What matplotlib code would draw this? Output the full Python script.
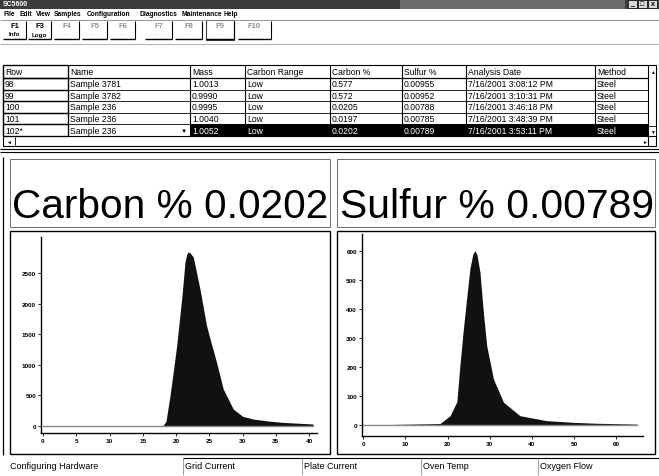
import matplotlib
matplotlib.use("Agg")
import matplotlib.pyplot as plt
from matplotlib.patches import Rectangle

W, H = 659, 477

# table contents
columns = ["Row", "Name", "Mass", "Carbon Range", "Carbon %", "Sulfur %", "Analysis Date", "Method"]
rowIds = ["98", "99", "100", "101", "102*"]
names = ["Sample 3781", "Sample 3782", "Sample 236", "Sample 236", "Sample 236"]
masses = ["1.0013", "0.9990", "0.9995", "1.0040", "1.0052"]
ranges = ["Low", "Low", "Low", "Low", "Low"]
carbonPct = ["0.577", "0.572", "0.0205", "0.0197", "0.0202"]
sulfurPct = ["0.00955", "0.00952", "0.00788", "0.00785", "0.00789"]
dates = ["7/16/2001 3:08:12 PM", "7/16/2001 3:10:31 PM", "7/16/2001 3:46:18 PM",
         "7/16/2001 3:48:39 PM", "7/16/2001 3:53:11 PM"]
methods = ["Steel", "Steel", "Steel", "Steel", "Steel"]

menuItems = ["File", "Edit", "View", "Samples", "Configuration", "Diagnostics", "Maintenance", "Help"]
fKeys = ["F1", "F3", "F4", "F5", "F6", "F7", "F8", "F9", "F10"]
fLabels = ["Info", "Logo", "", "", "", "", "", "", ""]
statusItems = ["Configuring Hardware", "Grid Current", "Plate Current", "Oven Temp", "Oxygen Flow"]

carbonResult = "Carbon % 0.0202"
sulfurResult = "Sulfur % 0.00789"

# carbon peak (seconds vs counts)
carbonT = [0, 18.0, 18.5, 19.1, 19.6, 20.1, 20.9, 21.35, 21.6, 21.8, 22.1, 22.6, 23.6, 24.6, 25.3,
           26.1, 27.1, 28.6, 30.0, 31.6, 34.0, 36.0, 38.5, 40.6]
carbonV = [0, 0, 80, 497, 900, 1312, 2130, 2675, 2800, 2843, 2830, 2760, 2240, 1635, 1350,
           1040, 605, 278, 160, 114, 80, 60, 45, 33]
carbonXTicks = [0, 5, 10, 15, 20, 25, 30, 35, 40]
carbonYTicks = [0, 500, 1000, 1500, 2000, 2500]

# sulfur peak
sulfurT = [0, 18.2, 20.6, 22.2, 23.0, 23.75, 24.6, 25.3, 26.0, 26.5, 27.0, 27.7, 28.5, 29.3, 30.9,
           33.3, 37.2, 43.5, 50.0, 55.4, 65.0]
sulfurV = [0, 5, 32, 80, 216, 330, 445, 537, 588, 600, 585, 525, 388, 273, 158,
           78, 32, 15, 9, 6, 3]
sulfurXTicks = [0, 10, 20, 30, 40, 50, 60]
sulfurYTicks = [0, 100, 200, 300, 400, 500, 600]

UIFONT = "Liberation Sans"

fig = plt.figure(figsize=(W / 100, H / 100), dpi=100)
fig.patch.set_facecolor("white")
ui = fig.add_axes([0, 0, 1, 1])
ui.set_xlim(0, W)
ui.set_ylim(H, 0)
ui.axis("off")


def box(x0, y0, x1, y1, fc="none", ec="black", lw=0.8, z=1):
    ui.add_patch(Rectangle((x0, y0), x1 - x0, y1 - y0, facecolor=fc, edgecolor=ec, linewidth=lw, zorder=z))


def hline(y, x0, x1, c="black", lw=0.8):
    ui.plot([x0, x1], [y, y], color=c, lw=lw, solid_capstyle="butt")


def vline(x, y0, y1, c="black", lw=0.8):
    ui.plot([x, x], [y0, y1], color=c, lw=lw, solid_capstyle="butt")


def txt(x, y, s, size=6, color="black", weight="normal", ha="left", family=UIFONT):
    return ui.text(x, y, s, fontsize=size, color=color, weight=weight, ha=ha, va="center", family=family)


# title bar
box(0, 0, W, 10, fc="#3c3c3c", ec="none")
box(400, 0, 625, 10, fc="#6a6a6a", ec="none")
txt(3, 5, "SC5600", size=5, color="white", weight="bold")
for i, s in enumerate(["_", "\u25a1", "x"]):
    box(628 + i * 10, 1, 637 + i * 10, 9, fc="#d8d8d8", ec="black", lw=0.5)
    txt(632.5 + i * 10, 5, s, size=5, weight="bold", ha="center")

# menu bar
menuX = [3, 19, 36, 54, 87, 140, 182, 224]
for x, s in zip(menuX, menuItems):
    txt(x, 15, s, size=4.8, weight="bold")
hline(20.5, 0, W, c="#888888", lw=0.6)

# toolbar buttons
btnX = [3, 28, 54, 82, 110, 145, 175, 206, 238]
btnW = [23, 23, 25, 25, 25, 27, 27, 28, 33]
for i in range(len(fKeys)):
    x0 = btnX[i]
    x1 = x0 + btnW[i]
    col = "#909090" if i >= 2 else "black"
    txt((x0 + x1) / 2, 27, fKeys[i], size=5.5, color=col, weight="bold", ha="center")
    if fLabels[i]:
        txt((x0 + x1) / 2, 35, fLabels[i], size=4.5, weight="bold", ha="center")
    else:
        txt((x0 + x1) / 2, 35, "\u00b7\u00b7\u00b7\u00b7", size=4, color="#b0b0b0", ha="center")
    hline(40, x0, x1, c="black", lw=1.0)
    vline(x1, 22, 40, c="black", lw=0.8)
box(206, 21, 234, 41, fc="none", ec="#404040", lw=0.8)
hline(45, 0, W, c="#a0a0a0", lw=0.6)

# data table
colX = [3, 68, 190, 245, 330, 402, 466, 595, 648]
headTop = 66
rowH = 11.6
headBot = 79
box(colX[0], headTop, 656, 147, fc="white", ec="black", lw=0.8)
for j, name in enumerate(columns):
    txt(colX[j] + 2, (headTop + headBot) / 2, name, size=6.2)
    vline(colX[j], headTop, 137, lw=0.8)
vline(colX[-1], headTop, 147, lw=0.8)
hline(headBot, colX[0], colX[-1], lw=0.9)
tableCols = [rowIds, names, masses, ranges, carbonPct, sulfurPct, dates, methods]
for i in range(len(rowIds)):
    y0 = headBot + i * rowH
    y1 = y0 + rowH
    last = i == len(rowIds) - 1
    if last:
        box(colX[2], y0, colX[-1], y1, fc="black", ec="none", z=2)
    hline(y1, colX[0], colX[-1], lw=0.6)
    for j in range(len(columns)):
        color = "white" if (last and j >= 2) else "black"
        ui.text(colX[j] + 2, (y0 + y1) / 2, tableCols[j][i], fontsize=6.2, color=color,
                va="center", ha="left", family=UIFONT, zorder=3)
    if last:
        txt(colX[2] - 6, (y0 + y1) / 2, "\u25bc", size=4.5, ha="center")
    # heavier border round the row header cell
    box(colX[0], y0, colX[1], y1, ec="black", lw=0.9)
box(colX[0], headTop, colX[1], headBot, ec="black", lw=0.9)
# scroll bars
txt(650.5, 72, "\u25b2", size=3.5)
box(648, 127, 656, 137, fc="white", ec="black", lw=0.6)
txt(650.5, 132, "\u25bc", size=3.5)
hline(137, colX[0], 656, lw=0.8)
txt(6, 142, "\u25c4", size=3.5)
vline(15, 138, 146, lw=0.6)
txt(642, 142, "\u25ba", size=3.5)
hline(150, 0, W, lw=0.8)
hline(153, 0, W, lw=0.8)

# result panels
vline(3, 158, 456, lw=0.9)
box(10, 160, 330, 228, lw=0.6, ec="#555555")
box(337, 160, 655, 228, lw=0.6, ec="#555555")
bigC = txt(12, 207, carbonResult, size=30)
bigS = txt(340, 207, sulfurResult, size=30)
box(10, 232, 330, 455, lw=1.0)
box(337, 232, 655, 455, lw=1.0)

# shrink the big readouts so they fill their boxes like the original
fig.canvas.draw()
renderer = fig.canvas.get_renderer()
for t, target in [(bigC, 316), (bigS, 313)]:
    w = t.get_window_extent(renderer).width
    t.set_fontsize(30 * target / w)


def px_axes(x0, y0, x1, y1):
    return fig.add_axes([x0 / W, 1 - y1 / H, (x1 - x0) / W, (y1 - y0) / H])


def peakPlot(ax, t, v, xticks, yticks, xlim, ylim):
    ax.fill_between(t, 0, v, color="#111111", lw=0)
    ax.plot([0, t[-1]], [0, 0], color="#8a8a8a", lw=1.0)
    ax.set_xlim(xlim)
    ax.set_ylim(ylim)
    ax.set_xticks(xticks)
    ax.set_yticks(yticks)
    ax.patch.set_alpha(0)
    for s in ["top", "right"]:
        ax.spines[s].set_visible(False)
    for s in ["left", "bottom"]:
        ax.spines[s].set_linewidth(1.0)
    ax.tick_params(direction="out", length=2, width=0.6, labelsize=4.6, pad=1.5)
    for lab in ax.get_xticklabels() + ax.get_yticklabels():
        lab.set_family(UIFONT)
        lab.set_weight("bold")


axC = px_axes(41, 238, 317, 434)
peakPlot(axC, carbonT, carbonV, carbonXTicks, carbonYTicks, (-0.3, 41.2), (-114, 3088))
axS = px_axes(361.7, 235, 643.3, 436.7)
peakPlot(axS, sulfurT, sulfurV, sulfurXTicks, sulfurYTicks, (-0.4, 66.5), (-36.8, 657))

# status bar
statusX = [10, 185, 304, 423, 540]
for x, s in zip(statusX, statusItems):
    txt(x, 467, s, size=6.5)
hline(459, 183, W, lw=0.8)
for x in statusX[1:]:
    vline(x - 2, 459, 476, c="#777777", lw=0.5)

fig.savefig("out.png", dpi=100)
